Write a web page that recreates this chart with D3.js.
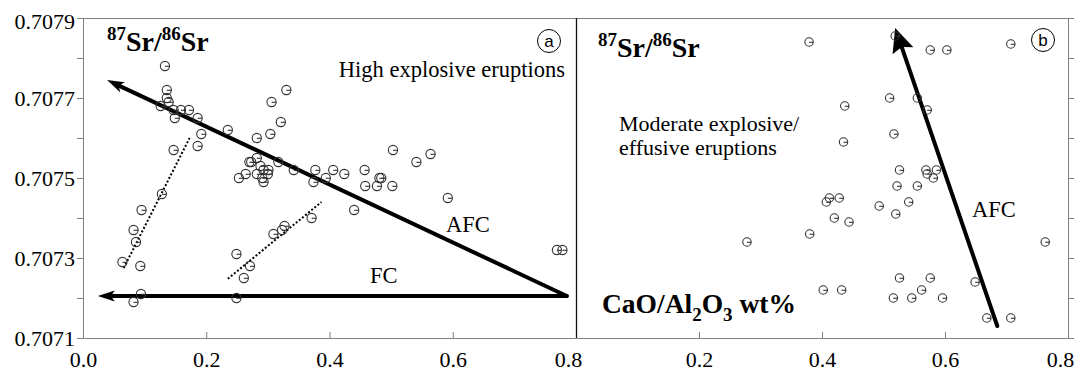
<!DOCTYPE html>
<html>
<head>
<meta charset="utf-8">
<script src="https://cdn.jsdelivr.net/npm/d3@7"></script>
<style>
  html, body { margin: 0; padding: 0; background: #fff; }
  svg { display: block; }
</style>
</head>
<body>
<script>
// Tick values and labels
var xTicks = [0, 0.2, 0.4, 0.6, 0.8],
    xLabelsA = ["0.0", "0.2", "0.4", "0.6", "0.8"],
    xTicksB = [0.2, 0.4, 0.6, 0.8],
    xLabelsB = ["0.2", "0.4", "0.6", "0.8"],
    yTicks = [0.7071, 0.7072, 0.7073, 0.7074, 0.7075, 0.7076, 0.7077, 0.7078, 0.7079],
    yLabels = ["0.7071", "", "0.7073", "", "0.7075", "", "0.7077", "", "0.7079"];

// (a) High explosive eruptions: [CaO/Al2O3, 87Sr/86Sr]
var highPts = [
  [0.133, 0.70778], [0.136, 0.70772], [0.139, 0.70769], [0.136, 0.70770], [0.126, 0.70768],
  [0.147, 0.70767], [0.159, 0.70767], [0.172, 0.70767], [0.149, 0.70765], [0.186, 0.70765],
  [0.192, 0.70761], [0.186, 0.70758], [0.147, 0.70757], [0.235, 0.70762], [0.282, 0.70760],
  [0.304, 0.70761], [0.306, 0.70769], [0.330, 0.70772], [0.321, 0.70764],
  [0.270, 0.70754], [0.273, 0.70754], [0.282, 0.70755], [0.253, 0.70750], [0.264, 0.70751],
  [0.288, 0.70753], [0.293, 0.70752], [0.301, 0.70752], [0.282, 0.70751], [0.291, 0.70750],
  [0.300, 0.70751], [0.293, 0.70749], [0.317, 0.70754], [0.342, 0.70752], [0.377, 0.70752],
  [0.374, 0.70749], [0.394, 0.70750], [0.406, 0.70752], [0.424, 0.70751], [0.457, 0.70752],
  [0.484, 0.70750], [0.481, 0.70750], [0.458, 0.70748], [0.477, 0.70748], [0.502, 0.70748],
  [0.503, 0.70757], [0.541, 0.70754], [0.564, 0.70756], [0.592, 0.70745], [0.440, 0.70742],
  [0.371, 0.70740], [0.769, 0.70732], [0.778, 0.70732],
  [0.128, 0.70746], [0.095, 0.70742], [0.082, 0.70737], [0.086, 0.70734], [0.064, 0.70729],
  [0.093, 0.70728], [0.094, 0.70721], [0.082, 0.70719], [0.249, 0.70731], [0.271, 0.70728],
  [0.261, 0.70725], [0.249, 0.70720], [0.309, 0.70736], [0.323, 0.70737], [0.327, 0.70738]
];

// (b) Moderate explosive / effusive eruptions
var modPts = [
  [0.379, 0.70784], [0.519, 0.707855], [0.576, 0.70782], [0.603, 0.70782], [0.707, 0.707835],
  [0.510, 0.70770], [0.555, 0.70770], [0.571, 0.70767], [0.437, 0.70768], [0.517, 0.70761],
  [0.435, 0.70759], [0.526, 0.70752], [0.569, 0.70752], [0.586, 0.70752], [0.571, 0.70751],
  [0.581, 0.70750], [0.522, 0.70748], [0.555, 0.70748], [0.541, 0.70744], [0.520, 0.70741],
  [0.493, 0.70743], [0.428, 0.70745], [0.412, 0.70745], [0.407, 0.70744], [0.420, 0.70740],
  [0.444, 0.70739], [0.380, 0.70736], [0.278, 0.70734], [0.763, 0.70734], [0.526, 0.70725],
  [0.576, 0.70725], [0.562, 0.70722], [0.649, 0.70724], [0.516, 0.70720], [0.546, 0.70720],
  [0.596, 0.70720], [0.668, 0.70715], [0.707, 0.70715], [0.402, 0.70722], [0.432, 0.70722]
];

// trend lines: [start, end]
var afcA = [[0.785, 0.707205], [0.039, 0.707745]],
    fcA = [[0.785, 0.707205], [0.024, 0.707205]],
    dotA1 = [[0.066, 0.707275], [0.173, 0.70760]],
    dotA2 = [[0.235, 0.707248], [0.387, 0.70744]],
    afcB = [[0.685, 0.70713], [0.519, 0.707875]];

var serif = "'Liberation Serif', 'Times New Roman', serif",
    sans = "'Liberation Sans', Arial, sans-serif",
    axisGrey = "#808080";

var svg = d3.select("body").append("svg")
    .attr("width", 1079)
    .attr("height", 371);

var xA = d3.scaleLinear().domain([0, 0.8]).range([83, 576]),
    xB = d3.scaleLinear().domain([0, 0.8]).range([576, 1068]),
    y = d3.scaleLinear().domain([0.7071, 0.7079]).range([338, 18]);

// top border across both panels
svg.append("line")
    .attr("x1", xA(0)).attr("x2", xB(0.8))
    .attr("y1", y(0.7079) + 0.5).attr("y2", y(0.7079) + 0.5)
    .attr("stroke", axisGrey);

// left y axis
var yAxis = svg.append("g")
    .attr("transform", "translate(" + xA(0) + ",0)")
    .attr("color", axisGrey)
    .call(d3.axisLeft(y).tickValues(yTicks).tickSize(6).tickPadding(2)
          .tickFormat(function(d, i) { return yLabels[i]; }));
yAxis.selectAll("text")
    .attr("fill", "#000")
    .attr("font-family", serif)
    .attr("font-size", 22)
    .attr("dy", function(d, i) { return i === yTicks.length - 1 ? "0.48em" : "0.33em"; });

// right y axis (ticks only)
svg.append("g")
    .attr("transform", "translate(" + xB(0.8) + ",0)")
    .attr("color", axisGrey)
    .call(d3.axisRight(y).tickValues(yTicks).tickSize(6).tickFormat(""));

// bottom axes, ticks inside
function bottomAxis(scale, ticks, labels) {
  var g = svg.append("g")
      .attr("transform", "translate(0," + y(0.7071) + ")")
      .attr("color", axisGrey)
      .call(d3.axisBottom(scale).tickValues(ticks).tickSizeInner(-6).tickSizeOuter(0)
            .tickFormat(function(d, i) { return labels[i]; }));
  g.selectAll("text")
      .attr("fill", "#000")
      .attr("font-family", serif)
      .attr("font-size", 22)
      .attr("y", 28.5)
      .attr("dy", 0)
      // last label pulled left so it is not cut at the panel edge
      .attr("dx", function(d) { return d === 0.8 ? -8 : 0; });
  return g;
}
bottomAxis(xA, xTicks, xLabelsA);
bottomAxis(xB, xTicksB, xLabelsB);

// divider between the two panels
svg.append("line")
    .attr("x1", xA(0.8) + 0.5).attr("x2", xA(0.8) + 0.5)
    .attr("y1", y(0.7079)).attr("y2", y(0.7071))
    .attr("stroke", "#111").attr("stroke-width", 1.3);

// arrows
function arrow(g, pts, sx, len, half, notch) {
  var x0 = sx(pts[0][0]), y0 = y(pts[0][1]),
      x1 = sx(pts[1][0]), y1 = y(pts[1][1]),
      a = Math.atan2(y1 - y0, x1 - x0);
  g.append("line")
      .attr("x1", x0).attr("y1", y0)
      .attr("x2", x1 - Math.cos(a) * len * 0.6)
      .attr("y2", y1 - Math.sin(a) * len * 0.6)
      .attr("stroke", "#000").attr("stroke-width", 4)
      .attr("stroke-linecap", "round");
  g.append("path")
      .attr("d", "M0,0L" + (-len) + "," + (-half) + "L" + (-len + notch) + ",0L" + (-len) + "," + half + "Z")
      .attr("transform", "translate(" + x1 + "," + y1 + ") rotate(" + (a * 180 / Math.PI) + ")")
      .attr("fill", "#000");
}

var gA = svg.append("g"), gB = svg.append("g");

// dotted trends in (a)
[dotA1, dotA2].forEach(function(p) {
  gA.append("line")
      .attr("x1", xA(p[0][0])).attr("y1", y(p[0][1]))
      .attr("x2", xA(p[1][0])).attr("y2", y(p[1][1]))
      .attr("stroke", "#000").attr("stroke-width", 2)
      .attr("stroke-dasharray", "2,2");
});

arrow(gA, afcA, xA, 17, 5.5, 4);
arrow(gA, fcA, xA, 17, 5.5, 4);
arrow(gB, afcB, xB, 24, 11, 4);

// markers: circle with short dash
function drawPts(g, pts, sx, r) {
  var m = g.selectAll(".pt").data(pts).enter().append("g")
      .attr("class", "pt")
      .attr("transform", function(d) { return "translate(" + sx(d[0]) + "," + y(d[1]) + ")"; });
  m.append("circle").attr("r", r)
      .attr("fill", "none").attr("stroke", "#333").attr("stroke-width", 1.1);
  m.append("path").attr("d", "M0,0.3H" + r)
      .attr("stroke", "#333").attr("stroke-width", 1.1);
}
drawPts(gA, highPts, xA, 4.6);
drawPts(gB, modPts, xB, 4.2);

// titles
function srTitle(x, yy) {
  var t = svg.append("text")
      .attr("x", x).attr("y", yy)
      .attr("font-family", serif).attr("font-weight", "bold").attr("font-size", 28);
  t.append("tspan").attr("font-size", 19).attr("dy", -11).text("87");
  t.append("tspan").attr("dy", 11).text("Sr/");
  t.append("tspan").attr("font-size", 19).attr("dy", -11).text("86");
  t.append("tspan").attr("dy", 11).text("Sr");
}
srTitle(107, 51);
srTitle(598, 57);

var cao = svg.append("text")
    .attr("x", 602).attr("y", 313)
    .attr("font-family", serif).attr("font-weight", "bold").attr("font-size", 27.5);
cao.append("tspan").text("CaO/Al");
cao.append("tspan").attr("font-size", 19).attr("dy", 8).text("2");
cao.append("tspan").attr("dy", -8).text("O");
cao.append("tspan").attr("font-size", 19).attr("dy", 8).text("3");
cao.append("tspan").attr("dy", -8).text(" wt%");

function label(x, yy, txt, anchor, size) {
  svg.append("text")
      .attr("x", x).attr("y", yy)
      .attr("text-anchor", anchor || "start")
      .attr("font-family", serif).attr("font-size", size || 22.5)
      .text(txt);
}
label(565, 77, "High explosive eruptions", "end");
label(446, 232, "AFC");
label(370, 283, "FC");
label(972, 217, "AFC");
label(619, 131, "Moderate explosive/", "start", 22);
label(619, 155, "effusive eruptions", "start", 22);

// circled panel letters
function badge(x, yy, txt) {
  svg.append("circle").attr("cx", x).attr("cy", yy).attr("r", 11.5)
      .attr("fill", "none").attr("stroke", "#000").attr("stroke-width", 1);
  svg.append("text").attr("x", x).attr("y", yy)
      .attr("text-anchor", "middle").attr("dy", "0.36em")
      .attr("font-family", sans).attr("font-size", 17)
      .text(txt);
}
badge(549, 41, "a");
badge(1043, 40, "b");
</script>
</body>
</html>
